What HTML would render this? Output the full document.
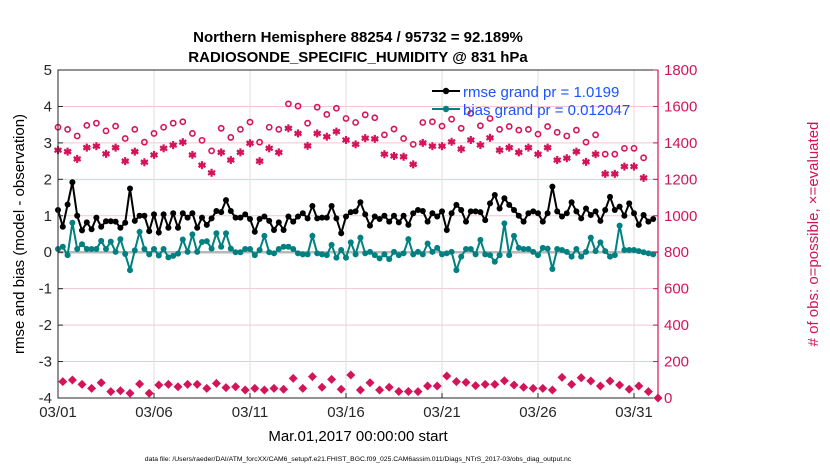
<!DOCTYPE html>
<html><head><meta charset="utf-8"><style>
body{margin:0;background:#fff;}
svg{display:block;font-family:"Liberation Sans",sans-serif;}
</style></head><body>
<svg id="chart" width="830" height="470" xmlns="http://www.w3.org/2000/svg">
<text x="358" y="42" text-anchor="middle" font-size="15" font-weight="bold">Northern Hemisphere 88254 / 95732 = 92.189%</text>
<text x="358" y="62" text-anchor="middle" font-size="15" font-weight="bold">RADIOSONDE_SPECIFIC_HUMIDITY @ 831 hPa</text>
<g id="grid"></g>
<g id="marks"></g>
<g id="axes"></g>
<text transform="translate(24,234) rotate(-90)" text-anchor="middle" font-size="15">rmse and bias (model - observation)</text>
<text transform="translate(818,234) rotate(-90)" text-anchor="middle" font-size="15" fill="#d4145a"># of obs: o=possible, ×=evaluated</text>
<text x="358" y="441" text-anchor="middle" font-size="15">Mar.01,2017 00:00:00 start</text>
<text x="358" y="461" text-anchor="middle" font-size="6.8">data file: /Users/raeder/DAI/ATM_forcXX/CAM6_setup/f.e21.FHIST_BGC.f09_025.CAM6assim.011/Diags_NTrS_2017-03/obs_diag_output.nc</text>
<g>
<line x1="432" y1="91" x2="460" y2="91" stroke="#000" stroke-width="2"/><circle cx="446" cy="91" r="3.2" fill="#000"/>
<text x="463" y="97" font-size="15" fill="#1a53ff">rmse grand pr = 1.0199</text>
<line x1="432" y1="109" x2="460" y2="109" stroke="#008080" stroke-width="2"/><circle cx="446" cy="109" r="3.2" fill="#008080"/>
<text x="463" y="115" font-size="15" fill="#1a53ff">bias grand pr = 0.012047</text>
</g>
</svg>
<script>
const rmse=[1.16,0.7,1.31,1.92,1.0,0.6,0.82,0.63,0.95,0.7,0.85,0.85,0.84,0.67,0.81,1.75,0.86,1.0,1.0,0.58,1.04,0.54,1.04,0.67,1.07,0.67,1.07,0.95,1.07,0.67,0.95,0.75,
0.93,1.13,1.1,1.43,1.13,0.95,0.95,1.04,0.91,0.56,0.91,0.98,0.86,0.61,0.82,0.61,0.98,0.84,0.98,1.07,0.93,1.27,0.93,0.95,0.95,1.27,0.93,0.52,0.98,1.1,1.12,1.37,
1.04,0.73,0.98,0.91,1.0,0.84,1.0,0.82,1.0,0.75,1.07,1.16,1.13,0.84,1.07,0.98,1.12,0.61,1.07,1.3,1.16,0.84,1.12,1.12,1.1,0.88,1.34,1.57,1.2,
1.48,1.3,1.16,1.0,0.84,1.07,1.12,1.07,0.84,1.07,1.8,1.12,0.98,1.07,1.37,1.12,0.93,1.2,1.02,1.12,0.86,1.16,1.52,1.16,1.25,1.0,1.34,1.07,0.75,1.02,0.84,0.91];
const bias=[0.09,0.15,-0.08,0.81,0.09,0.22,0.09,0.09,0.09,0.31,0.09,0.29,0.01,0.36,-0.05,-0.49,0.05,0.56,0.09,-0.06,0.09,-0.09,0.09,-0.14,-0.1,-0.04,0.35,0.01,0.49,0.01,0.28,0.3,
0.1,0.52,0.15,0.52,0.1,0,0,0.09,0.09,-0.08,0.06,0.45,0,-0.03,0.09,0.15,0.15,0.09,-0.03,-0.06,-0.06,0.45,-0.03,-0.06,-0.08,0.2,-0.15,0.06,-0.15,0.27,-0.06,0.4,
-0.03,0.01,-0.08,-0.17,-0.06,-0.19,0.01,-0.08,-0.03,0.36,-0.06,0.01,-0.06,0.24,0.01,0.12,-0.06,-0.03,0.01,-0.49,-0.12,0.09,0.09,-0.06,0.34,-0.06,-0.08,-0.26,-0.08,
0.79,-0.08,0.45,0.12,0.09,0.09,0.01,-0.08,0.12,0.1,-0.46,0.09,0.06,0.01,-0.12,0.09,-0.12,0.01,0.4,0.03,0.27,0.03,-0.12,-0.08,0.73,0.06,0.06,0.06,0.03,0,-0.03,-0.06];
const possible=[1486,1474,1438,1496,1508,1466,1492,1424,1474,1404,1452,1486,1508,1516,1452,1414,1356,1480,1430,1474,1514,1404,1486,1474,1614,1602,1508,1596,1556,1590,1534,1512,1554,1538,1444,1476,1424,1392,1512,1516,1492,1530,1480,1562,1494,1534,1474,1490,1470,1474,1448,1490,1458,1438,1470,1404,1444,1338,1338,1370,1370,1318];
const evaluated=[1360,1352,1312,1374,1382,1340,1374,1300,1352,1294,1334,1370,1388,1404,1334,1278,1236,1348,1306,1348,1398,1300,1370,1348,1480,1452,1384,1452,1434,1462,1416,1392,1426,1422,1338,1328,1324,1282,1400,1382,1382,1406,1366,1416,1388,1428,1360,1374,1348,1374,1338,1374,1306,1316,1352,1296,1338,1230,1230,1270,1270,1208];
const lowCount=[90,99,75,53,84,35,40,26,77,26,71,75,62,75,75,53,80,57,62,44,53,44,53,48,108,53,117,59,102,48,126,44,84,44,59,36,36,35,66,66,121,90,86,68,75,75,95,71,59,53,53,44,113,75,111,93,66,93,71,48,66,35,0];
const leftTicks=[5,4,3,2,1,0,-1,-2,-3,-4];
const rightTicks=[0,200,400,600,800,1000,1200,1400,1600,1800];
const dateLabels=["03/01","03/06","03/11","03/16","03/21","03/26","03/31"];
const dateDays=[0,5,10,15,20,25,30];

const X0=58,X1=658,Y0=70,Y1=398,DMAX=31.25;
const NS="http://www.w3.org/2000/svg";
const xs=d=>X0+d*(X1-X0)/DMAX;
const yl=v=>Y0+(5-v)*(Y1-Y0)/9;
const yr=c=>Y1-c*(Y1-Y0)/1800;
const RED="#d4145a",TEAL="#008080";
function mk(tag,attrs,parent){const e=document.createElementNS(NS,tag);for(const k in attrs)e.setAttribute(k,attrs[k]);parent.appendChild(e);return e;}
const grid=document.getElementById('grid'),marks=document.getElementById('marks'),axes=document.getElementById('axes');

leftTicks.forEach(v=>{if(v!==5&&v!==-4&&v!==0){const l=mk('line',{x1:X0,x2:X1,y1:yl(v),y2:yl(v),stroke:'#f2c6d3','stroke-width':1},grid);

}});
dateDays.forEach(d=>{if(d>0){const l=mk('line',{x1:xs(d),x2:xs(d),y1:Y0,y2:Y1,stroke:'#dcdcdc','stroke-width':1},grid);

}});
const z=mk('line',{x1:X0,x2:X1,y1:yl(0),y2:yl(0),stroke:'#b8b8b8','stroke-width':2.5},grid);



possible.forEach((c,i)=>{const e=mk('circle',{cx:xs(i*0.5),cy:yr(c),r:2.6,fill:'none',stroke:RED,'stroke-width':1.6},marks);

});
evaluated.forEach((c,i)=>{const x=xs(i*0.5),y=yr(c);const g=mk('g',{stroke:RED,'stroke-width':2.2},marks);


[[0,4],[3.5,2],[3.5,-2]].forEach(([dx,dy])=>mk('line',{x1:x-dx,y1:y-dy,x2:x+dx,y2:y+dy},g));
mk('line',{x1:x-3,y1:y,x2:x+3,y2:y},g);});
lowCount.forEach((c,i)=>{const x=xs(0.25+i*0.5),y=yr(c);const e=mk('polygon',{points:`${x},${y-4.5} ${x+4.5},${y} ${x},${y+4.5} ${x-4.5},${y}`,fill:RED},marks);

});
[[rmse,'#000','rmse'],[bias,TEAL,'bias']].forEach(([arr,col,nm])=>{
const p=mk('polyline',{points:arr.map((v,i)=>xs(i*0.25)+','+yl(v)).join(' '),fill:'none',stroke:col,'stroke-width':2},marks);


arr.forEach((v,i)=>{const c=mk('circle',{cx:xs(i*0.25),cy:yl(v),r:3,fill:col},marks);

});});

mk('rect',{x:X0,y:Y0,width:X1-X0,height:Y1-Y0,fill:'none',stroke:'#262626','stroke-width':1},axes);
mk('line',{x1:X1,y1:Y0,x2:X1,y2:Y1,stroke:RED,'stroke-width':1.2},axes);
leftTicks.forEach(v=>{mk('line',{x1:X0,x2:X0+5,y1:yl(v),y2:yl(v),stroke:'#262626'},axes);
const t=mk('text',{x:X0-6,y:yl(v)+5,'text-anchor':'end','font-size':15,fill:'#262626'},axes);t.textContent=v;

});
rightTicks.forEach(c=>{mk('line',{x1:X1-5,x2:X1,y1:yr(c),y2:yr(c),stroke:RED},axes);
const t=mk('text',{x:X1+6,y:yr(c)+5,'font-size':15,fill:RED},axes);t.textContent=c;

});
dateDays.forEach((d,i)=>{mk('line',{x1:xs(d),x2:xs(d),y1:Y1,y2:Y1-5,stroke:'#262626'},axes);
const t=mk('text',{x:xs(d),y:Y1+19,'text-anchor':'middle','font-size':15,fill:'#262626'},axes);t.textContent=dateLabels[i];

});
</script>
</body></html>
